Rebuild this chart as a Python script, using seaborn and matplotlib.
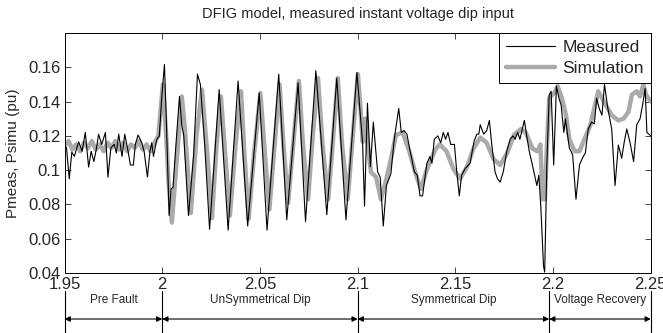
import matplotlib
matplotlib.use('Agg')
import matplotlib.pyplot as plt
import matplotlib.transforms as mtransforms
import seaborn as sns

# measured active power (pu) vs time (s)
meas_t = [1.9500, 1.9510, 1.9524, 1.9537, 1.9550, 1.9560, 1.9572, 1.9590, 1.9606, 1.9623,
          1.9636, 1.9650, 1.9662, 1.9674, 1.9690, 1.9709, 1.9722, 1.9737, 1.9754, 1.9765,
          1.9777, 1.9794, 1.9808, 1.9825, 1.9837, 1.9852, 1.9862, 1.9876, 1.9895, 1.9907,
          1.9924, 1.9937, 1.9946, 1.9955, 1.9972, 1.9985, 1.9997, 2.0011, 2.0020, 2.0035,
          2.0045, 2.0055, 2.0070, 2.0088, 2.0100, 2.0110, 2.0134, 2.0160, 2.0180, 2.0195,
          2.0218, 2.0242, 2.0259, 2.0291, 2.0337, 2.0388, 2.0437, 2.0496, 2.0536, 2.0596,
          2.0637, 2.0695, 2.0733, 2.0786, 2.0842, 2.0893, 2.0940, 2.0996, 2.1025, 2.1035,
          2.1050, 2.1065, 2.1080, 2.1102, 2.1115, 2.1131, 2.1147, 2.1170, 2.1187, 2.1210,
          2.1223, 2.1238, 2.1252, 2.1265, 2.1290, 2.1305, 2.1319, 2.1332, 2.1354, 2.1370,
          2.1380, 2.1392, 2.1410, 2.1425, 2.1438, 2.1450, 2.1462, 2.1476, 2.1495, 2.1507,
          2.1520, 2.1532, 2.1550, 2.1575, 2.1596, 2.1610, 2.1620, 2.1627, 2.1645, 2.1660,
          2.1674, 2.1686, 2.1703, 2.1715, 2.1729, 2.1745, 2.1763, 2.1780, 2.1795, 2.1805,
          2.1819, 2.1830, 2.1853, 2.1865, 2.1878, 2.1893, 2.1917, 2.1927, 2.1937, 2.1951,
          2.1957, 2.1968, 2.1980, 2.1990, 2.2003, 2.2017, 2.2030, 2.2041, 2.2055, 2.2063,
          2.2083, 2.2100, 2.2117, 2.2135, 2.2150, 2.2165, 2.2180, 2.2197, 2.2211, 2.2223,
          2.2236, 2.2250, 2.2263, 2.2280, 2.2300, 2.2317, 2.2334, 2.2351, 2.2365, 2.2377,
          2.2394, 2.2412, 2.2428, 2.2445, 2.2458, 2.2471, 2.2480, 2.2500]
meas_v = [0.1147, 0.1130, 0.0949, 0.1105, 0.1080, 0.1120, 0.1165, 0.1110, 0.1220, 0.1018,
          0.1110, 0.1050, 0.1120, 0.1210, 0.1150, 0.1220, 0.0959, 0.1130, 0.1150, 0.1100,
          0.1210, 0.1080, 0.1210, 0.1110, 0.1030, 0.1030, 0.1150, 0.1205, 0.1160, 0.1110,
          0.0960, 0.1110, 0.1160, 0.1080, 0.1180, 0.1200, 0.1420, 0.1616, 0.1320, 0.0735,
          0.0890, 0.0900, 0.1150, 0.1430, 0.1260, 0.1200, 0.0735, 0.1080, 0.1560, 0.1500,
          0.1130, 0.0655, 0.0930, 0.1470, 0.0650, 0.1520, 0.0674, 0.1450, 0.0650, 0.1560,
          0.0710, 0.1510, 0.0700, 0.1580, 0.0740, 0.1537, 0.0710, 0.1570, 0.1160, 0.0790,
          0.1390, 0.1020, 0.1280, 0.0990, 0.0960, 0.0674, 0.0910, 0.0980, 0.1180, 0.1360,
          0.1220, 0.1230, 0.1210, 0.1130, 0.0990, 0.0970, 0.0850, 0.0850, 0.1040, 0.1080,
          0.1040, 0.1180, 0.1200, 0.1160, 0.1220, 0.1180, 0.1220, 0.1150, 0.1150, 0.0990,
          0.0850, 0.0970, 0.1010, 0.1040, 0.1170, 0.1210, 0.1210, 0.1265, 0.1210, 0.1230,
          0.1290, 0.1150, 0.0990, 0.0950, 0.0930, 0.0990, 0.1110, 0.1180, 0.1200, 0.1180,
          0.1220, 0.1180, 0.1290, 0.1200, 0.1110, 0.1035, 0.0910, 0.0970, 0.0790, 0.0440,
          0.0405, 0.1030, 0.1440, 0.1460, 0.1030, 0.1490, 0.1420, 0.1380, 0.1220, 0.1300,
          0.1130, 0.1090, 0.0830, 0.1030, 0.1070, 0.1100, 0.1240, 0.1280, 0.1270, 0.1420,
          0.1360, 0.1320, 0.1500, 0.1360, 0.1240, 0.0910, 0.1147, 0.1070, 0.1170, 0.1240,
          0.1160, 0.1050, 0.1265, 0.1300, 0.1380, 0.1476, 0.1220, 0.1200]

# simulated active power (pu) vs time (s)
sim_t = [1.9500, 1.9520, 1.9540, 1.9560, 1.9580, 1.9600, 1.9620, 1.9640, 1.9660, 1.9680,
         1.9700, 1.9720, 1.9740, 1.9760, 1.9780, 1.9800, 1.9820, 1.9840, 1.9860, 1.9880,
         1.9900, 1.9920, 1.9940, 1.9960, 1.9980, 2.0003, 2.0020, 2.0032, 2.0049, 2.0070,
         2.0100, 2.0115, 2.0146, 2.0175, 2.0203, 2.0230, 2.0254, 2.0278, 2.0300, 2.0325,
         2.0346, 2.0375, 2.0403, 2.0420, 2.0442, 2.0470, 2.0502, 2.0525, 2.0548, 2.0575,
         2.0600, 2.0620, 2.0644, 2.0670, 2.0699, 2.0720, 2.0746, 2.0770, 2.0797, 2.0820,
         2.0849, 2.0875, 2.0898, 2.0920, 2.0949, 2.0975, 2.1001, 2.1015, 2.1026, 2.1036,
         2.1050, 2.1068, 2.1094, 2.1119, 2.1145, 2.1170, 2.1196, 2.1230, 2.1264, 2.1299,
         2.1324, 2.1350, 2.1376, 2.1397, 2.1420, 2.1455, 2.1490, 2.1524, 2.1560, 2.1592,
         2.1627, 2.1660, 2.1695, 2.1729, 2.1765, 2.1800, 2.1835, 2.1860, 2.1895, 2.1920,
         2.1935, 2.1946, 2.1958, 2.1968, 2.1980, 2.2006, 2.2023, 2.2045, 2.2066, 2.2083,
         2.2110, 2.2135, 2.2160, 2.2190, 2.2231, 2.2260, 2.2300, 2.2334, 2.2360, 2.2386,
         2.2403, 2.2428, 2.2445, 2.2462, 2.2475, 2.2500]
sim_v = [0.1140, 0.1170, 0.1120, 0.1150, 0.1110, 0.1160, 0.1130, 0.1170, 0.1120, 0.1150,
         0.1110, 0.1160, 0.1130, 0.1170, 0.1120, 0.1160, 0.1110, 0.1150, 0.1130, 0.1170,
         0.1120, 0.1150, 0.1110, 0.1160, 0.1200, 0.1500, 0.1200, 0.0930, 0.0694, 0.1000,
         0.1430, 0.1250, 0.0750, 0.1200, 0.1470, 0.1100, 0.0720, 0.1150, 0.1430, 0.1050,
         0.0735, 0.1150, 0.1460, 0.1100, 0.0715, 0.1100, 0.1450, 0.1100, 0.0770, 0.1150,
         0.1500, 0.1150, 0.0810, 0.1150, 0.1520, 0.1150, 0.0830, 0.1200, 0.1537, 0.1150,
         0.0830, 0.1200, 0.1537, 0.1150, 0.0830, 0.1200, 0.1560, 0.1350, 0.1165, 0.1300,
         0.1160, 0.0988, 0.0960, 0.0830, 0.0940, 0.1065, 0.1205, 0.1220, 0.1110, 0.0970,
         0.0890, 0.0990, 0.1065, 0.1120, 0.1150, 0.1110, 0.1006, 0.0950, 0.1020, 0.1125,
         0.1190, 0.1160, 0.1065, 0.1030, 0.1100, 0.1205, 0.1240, 0.1220, 0.1125, 0.1110,
         0.1150, 0.0830, 0.0830, 0.1130, 0.1420, 0.1450, 0.1490, 0.1420, 0.1320, 0.1180,
         0.1110, 0.1110, 0.1180, 0.1260, 0.1460, 0.1400, 0.1320, 0.1290, 0.1300, 0.1340,
         0.1440, 0.1460, 0.1430, 0.1500, 0.1440, 0.1400]

x_ticks = [1.95, 2.0, 2.05, 2.1, 2.15, 2.2, 2.25]
x_labels = ['1.95', '2', '2.05', '2.1', '2.15', '2.2', '2.25']
y_ticks = [0.04, 0.06, 0.08, 0.10, 0.12, 0.14, 0.16]
y_labels = ['0.04', '0.06', '0.08', '0.1', '0.12', '0.14', '0.16']

# test phases shown under the time axis
phase_edges = [1.95, 2.0, 2.1, 2.198, 2.25]
phase_names = ['Pre Fault', 'UnSymmetrical Dip', 'Symmetrical Dip', 'Voltage Recovery']

sns.set_style('ticks')
plt.rcParams['font.family'] = ['Liberation Sans', 'DejaVu Sans']

fig = plt.figure(figsize=(6.63, 3.33), dpi=100)
ax = fig.add_axes([0.0974, 0.1802, 0.8842, 0.7207])

sns.lineplot(x=sim_t, y=sim_v, ax=ax, color='#aaaaaa', lw=3.2, label='Simulation', zorder=2)
sns.lineplot(x=meas_t, y=meas_v, ax=ax, color='black', lw=0.8, label='Measured', zorder=3)

ax.set_xlim(1.95, 2.25)
ax.set_ylim(0.04, 0.18)
ax.set_xticks(x_ticks)
ax.set_xticklabels(x_labels)
ax.set_yticks(y_ticks)
ax.set_yticklabels(y_labels)
ax.tick_params(direction='in', length=4, width=0.6, labelsize=12,
               top=True, right=True, pad=3)
for sp in ax.spines.values():
    sp.set_linewidth(0.7)
    sp.set_color('black')

ax.set_xlabel('')
ax.set_ylabel('Pmeas, Psimu (pu)', fontsize=11, labelpad=6)
ax.set_title('DFIG model, measured instant voltage dip input', fontsize=10.5, pad=11)

handles, labels = ax.get_legend_handles_labels()
order = [labels.index('Measured'), labels.index('Simulation')]
leg = ax.legend([handles[i] for i in order], [labels[i] for i in order],
                loc='upper right', borderaxespad=0, fontsize=12.5, handlelength=2.8,
                labelspacing=0.35, fancybox=False, framealpha=1, edgecolor='black',
                borderpad=0.4, handletextpad=0.45)
leg.get_frame().set_linewidth(0.7)

# phase markers below the axis
trans = mtransforms.blended_transform_factory(ax.transData, fig.transFigure)
for xe in phase_edges:
    ax.plot([xe, xe], [0.0, 0.125], transform=trans, color='black', lw=0.8, clip_on=False)
for i, name in enumerate(phase_names):
    x0, x1 = phase_edges[i], phase_edges[i + 1]
    ax.annotate('', xy=(x1, 0.042), xytext=(x0, 0.042), xycoords=trans, textcoords=trans,
                arrowprops=dict(arrowstyle='<|-|>', color='black', lw=0.8,
                                shrinkA=0, shrinkB=0, mutation_scale=8),
                annotation_clip=False)
    ax.text((x0 + x1) / 2, 0.098, name, transform=trans, ha='center', va='center',
            fontsize=8.5, family=['Liberation Sans Narrow', 'Liberation Sans', 'DejaVu Sans'])

fig.savefig('out.png', dpi=100)
